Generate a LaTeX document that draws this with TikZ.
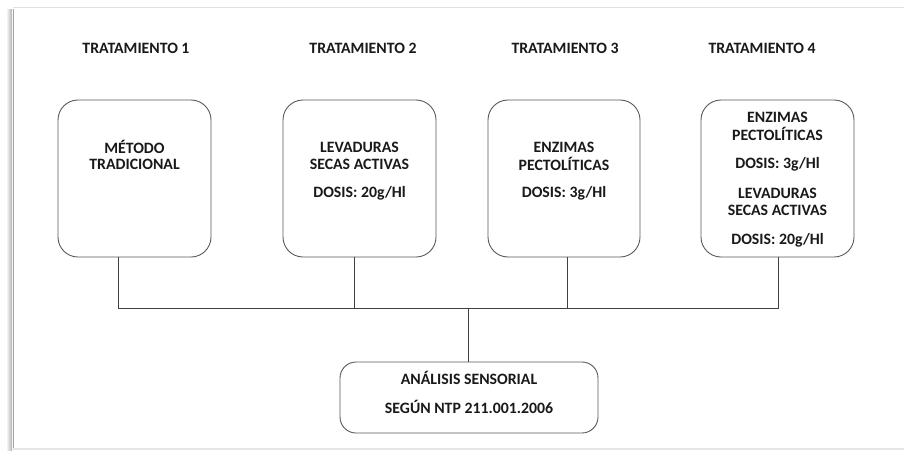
\documentclass[tikz,border=0pt]{standalone}
\usepackage{fontspec}
\setmainfont{Carlito}
\begin{document}
\begin{tikzpicture}[x=1pt,y=-1pt,
  lbl/.style={font=\bfseries\fontsize{15.8}{17}\selectfont, text=black!90, inner sep=0pt, anchor=center},
  trbox/.style={draw=black!65, line width=0.9pt, rounded corners=20pt},
  link/.style={draw=black!75, line width=0.9pt}]
\useasboundingbox (0,0) rectangle (904,450);
\fill[white] (0,0) rectangle (904,450);
% page edge and shadow
\shade[left color=white, right color=black!30] (6,9) rectangle (12,450);
\draw[black!35, line width=1pt] (13,9) -- (13,450);
\draw[black!12, line width=1.5pt] (13,7.5) -- (904,7.5);
\draw[black!10, line width=1.2pt] (13,449) -- (904,449);

% headings
\node[lbl] (h1) at (136,48) {TRATAMIENTO 1};
\node[lbl] (h2) at (363,48) {TRATAMIENTO 2};
\node[lbl] (h3) at (565,48) {TRATAMIENTO 3};
\node[lbl] (h4) at (762,48) {TRATAMIENTO 4};

% treatment boxes
\draw[trbox] (58,100) rectangle (211,257);
\draw[trbox] (283,100) rectangle (436,257);
\draw[trbox] (488,100) rectangle (640,257);
\draw[trbox] (701,100) rectangle (854,257);
\coordinate (b1) at (118,257);
\coordinate (b2) at (354,257);
\coordinate (b3) at (567,257);
\coordinate (b4) at (778,257);

% box 1
\node[lbl] (t1a) at (134.5,147) {MÉTODO};
\node[lbl] (t1b) at (134.5,164) {TRADICIONAL};
% box 2
\node[lbl] (t2a) at (359.5,147) {LEVADURAS};
\node[lbl] (t2b) at (359.5,164) {SECAS ACTIVAS};
\node[lbl] (t2c) at (359.5,193) {DOSIS: 20g/Hl};
% box 3
\node[lbl] (t3a) at (564,147) {ENZIMAS};
\node[lbl] (t3b) at (564,164) {PECTOLÍTICAS};
\node[lbl] (t3c) at (564,193) {DOSIS: 3g/Hl};
% box 4
\node[lbl] (t4a) at (777.5,117) {ENZIMAS};
\node[lbl] (t4b) at (777.5,134) {PECTOLÍTICAS};
\node[lbl] (t4c) at (777.5,164) {DOSIS: 3g/Hl};
\node[lbl] (t4d) at (777.5,193) {LEVADURAS};
\node[lbl] (t4e) at (777.5,210) {SECAS ACTIVAS};
\node[lbl] (t4f) at (777.5,240) {DOSIS: 20g/Hl};

% result box
\draw[trbox, rounded corners=16pt] (340,362) rectangle (598,433);
\coordinate (rt) at (468,362);
\node[lbl] (r1) at (469,378) {ANÁLISIS SENSORIAL};
\node[lbl] (r2) at (469,407) {SEGÚN NTP 211.001.2006};

% connectors
\coordinate (j1) at (118,308);
\coordinate (j4) at (778,308);
\coordinate (jm) at (468,308);
\draw[link] (b1) -- (j1) -- (j4) -- (b4);
\draw[link] (b2) -- (354,308);
\draw[link] (b3) -- (567,308);
\draw[link] (jm) -- (rt);
\end{tikzpicture}
\end{document}
